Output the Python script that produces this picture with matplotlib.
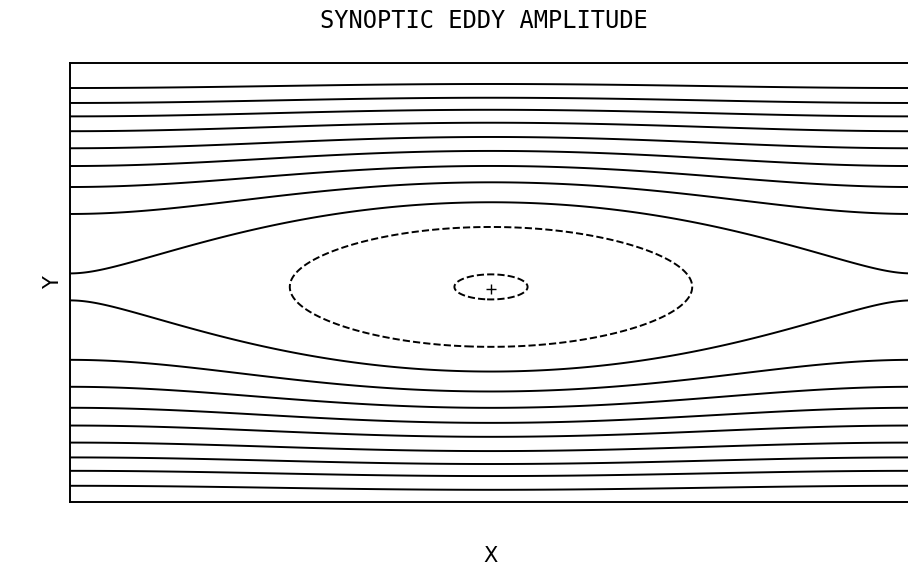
import numpy as np
import matplotlib
matplotlib.use("Agg")
import matplotlib.pyplot as plt

# Stuart-type cat's-eye stream function: psi = ln(cosh(y) - A*cos(x))
amp_A = 0.703                 # eddy amplitude parameter
y_bottom, y_top = -3.91, 4.07  # channel walls (scaled y)

# contour levels of psi, innermost eye first
levels = [-1.13, -0.05, 0.55, 1.00, 1.35, 1.66, 1.94, 2.22, 2.47, 2.70, 2.96]

# eddy centre
centre_x = [0.0]
centre_y = [-0.04]

x = np.linspace(-np.pi, np.pi, 800)
y = np.linspace(y_bottom, y_top, 800)
X, Y = np.meshgrid(x, y)
psi = np.log(np.cosh(Y) - amp_A * np.cos(X))

fig = plt.figure(figsize=(9.08, 5.71), dpi=100)
# right edge of the frame runs off the sheet
ax = fig.add_axes([70 / 908, 1 - 502 / 571, 842 / 908, 439 / 571])

# closed eddy contours (negative psi) come out dashed, as on the plotter
ax.contour(X, Y, psi, levels=levels, colors="black", linewidths=1.4)
ax.plot(centre_x, centre_y, marker="+", color="black", markersize=7, mew=1.0, ls="none")

ax.set_xlim(-np.pi, np.pi)
ax.set_ylim(y_bottom, y_top)
ax.set_xticks([])
ax.set_yticks([])
for side in ["left", "top", "bottom"]:
    ax.spines[side].set_linewidth(1.4)
ax.spines["right"].set_visible(False)

ax.set_xlabel("X", fontsize=15, labelpad=32)
ax.set_ylabel("Y", fontsize=15, labelpad=5)

fig.text(484 / 908, 1 - 21 / 571, "SYNOPTIC EDDY AMPLITUDE",
         family="DejaVu Sans Mono", fontsize=17, ha="center", va="center")

plt.savefig("out.png", dpi=100)
plt.close(fig)
